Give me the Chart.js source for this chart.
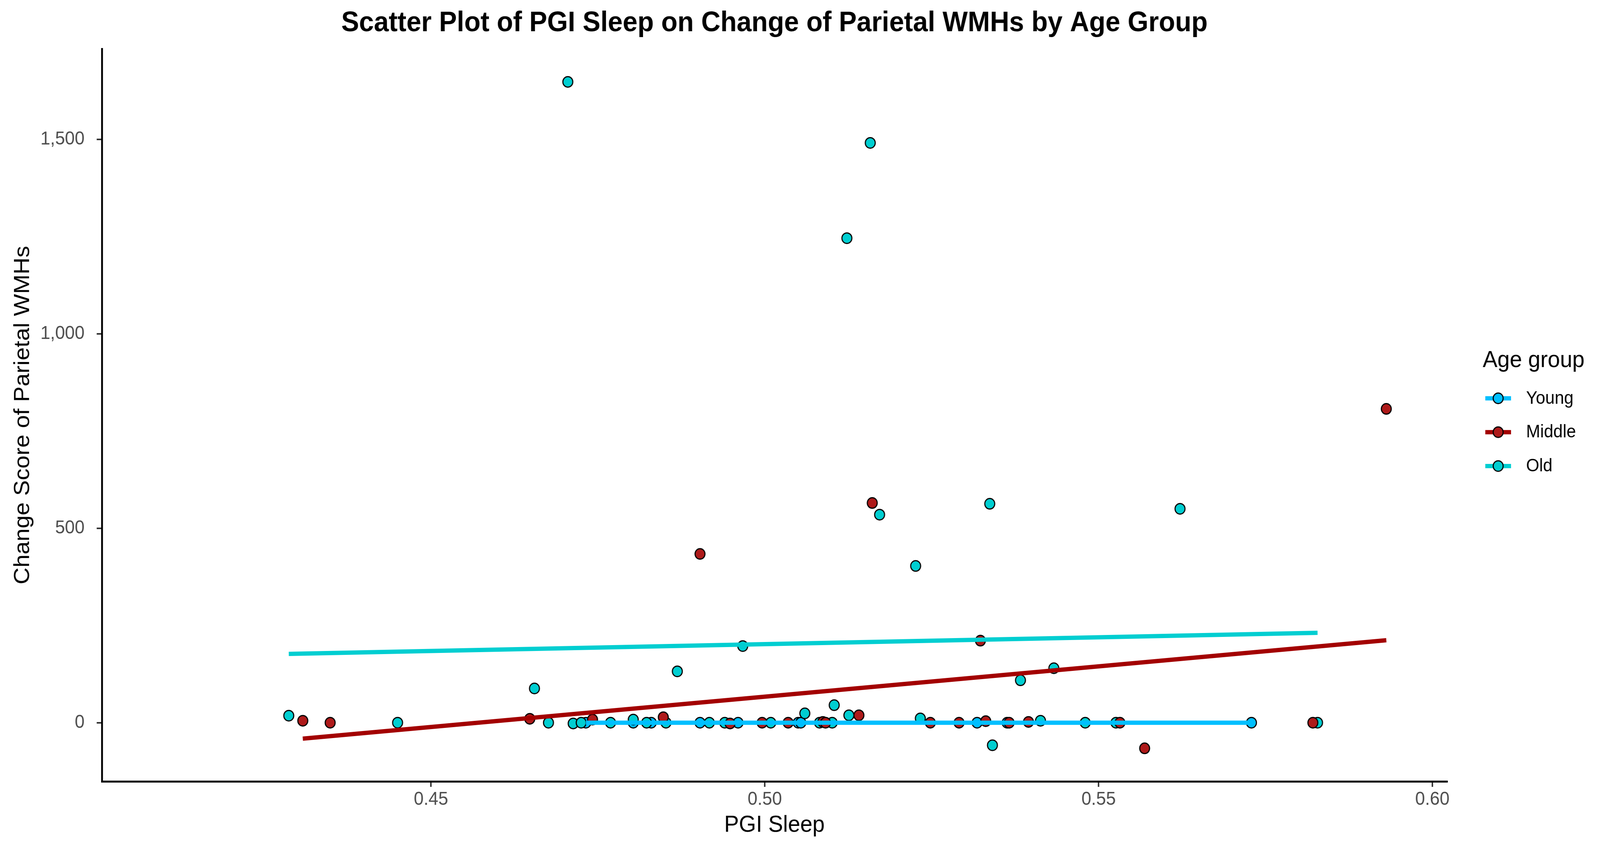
<!DOCTYPE html>
<html>
<head>
<meta charset="utf-8">
<title>PGI Sleep vs Parietal WMHs</title>
<script src="https://cdn.jsdelivr.net/npm/chart.js@4.4.1/dist/chart.umd.min.js"></script>
<style>
  html, body { margin: 0; padding: 0; background: #ffffff; overflow: hidden; }
  /* the chart is laid out at 4352x2169 and stretched to whatever the window is */
  canvas { display: block; }
</style>
</head>
<body>
<canvas id="myChart" width="4352" height="2169" style="width: 100vw; height: 100vh;"></canvas>
<script>
// --- data ---
const youngX = [0.4732, 0.4803, 0.4830, 0.4903, 0.4960, 0.5050, 0.5054, 0.5318, 0.5363, 0.5729];
const youngY = [0, 0, 0, 0, 0, 0, 0, 0, 0, 0];

const middleX = [0.4308, 0.4349, 0.4648, 0.4742, 0.4848, 0.4903, 0.4948, 0.4996, 0.5035, 0.5087,
                 0.5091, 0.5141, 0.5161, 0.5248, 0.5291, 0.5323, 0.5331, 0.5366, 0.5395, 0.5532,
                 0.5569, 0.5821, 0.5931];
const middleY = [5, 0, 10, 8, 14, 434, -2, 0, 0, 2,
                 0, 19, 565, 0, 0, 211, 4, 0, 2, 0,
                 -66, 0, 807];

const oldX = [0.4287, 0.4450, 0.4655, 0.4676, 0.4705, 0.4713, 0.4725, 0.4769, 0.4803, 0.4823,
              0.4852, 0.4869, 0.4917, 0.4940, 0.4967, 0.5009, 0.5060, 0.5082, 0.5101, 0.5104,
              0.5123, 0.5126, 0.5158, 0.5172, 0.5226, 0.5233, 0.5337, 0.5341, 0.5383, 0.5413,
              0.5433, 0.5480, 0.5526, 0.5622, 0.5828];
const oldY = [18, 0, 88, 0, 1648, -2, 0, 0, 8, 0,
              0, 132, 0, 0, 197, 0, 24, 0, 0, 45,
              1246, 19, 1491, 535, 403, 11, 563, -58, 109, 5,
              140, 0, 0, 550, 0];

// fitted lines (start / end) as drawn in the reference
const youngFitX = [0.4732, 0.5729];
const youngFitY = [0, 0];
const middleFitX = [0.4308, 0.5931];
const middleFitY = [-41, 212];
const oldFitX = [0.4287, 0.5828];
const oldFitY = [177, 231];

const groups = ['Young', 'Middle', 'Old'];
const xTicks = [0.45, 0.50, 0.55, 0.60];
const xTickLabels = ['0.45', '0.50', '0.55', '0.60'];
const yTicks = [0, 500, 1000, 1500];
const yTickLabels = ['0', '500', '1,000', '1,500'];

// --- styles ---
const lineColors = { Young: '#00BFFF', Middle: '#A30000', Old: '#00CED1' };
const fillColors = { Young: '#00BFFF', Middle: '#AE1A1A', Old: '#00CED1' };
const FONT = '"Liberation Sans", Arial, Helvetica, sans-serif';

function toPoints(xs, ys) {
    return xs.map((x, i) => ({ x: x, y: ys[i] }));
}

function fitDataset(name, xs, ys, order) {
    return {
        label: name + ' fit',
        data: toPoints(xs, ys),
        showLine: true,
        borderColor: lineColors[name],
        borderWidth: 11,
        pointRadius: 0,
        order: order
    };
}

function pointDataset(name, xs, ys, order) {
    return {
        label: name,
        data: toPoints(xs, ys),
        showLine: false,
        pointRadius: 13.5,
        pointBackgroundColor: fillColors[name],
        pointBorderColor: '#000000',
        pointBorderWidth: 3,
        order: order
    };
}

// Title and ggplot-like legend drawn on the canvas
const titleAndLegend = {
    id: 'titleAndLegend',
    afterDraw(chart) {
        const ctx = chart.ctx;
        const area = chart.chartArea;
        ctx.save();

        ctx.fillStyle = '#000000';
        ctx.font = 'bold 72.5px ' + FONT;
        ctx.textAlign = 'center';
        ctx.textBaseline = 'alphabetic';
        ctx.fillText('Scatter Plot of PGI Sleep on Change of Parietal WMHs by Age Group',
                     (area.left + area.right) / 2, 80);

        const lx = area.right + 97;
        ctx.textAlign = 'left';
        ctx.font = '60px ' + FONT;
        ctx.fillText('Age group', lx, 940);

        groups.forEach((name, i) => {
            const cy = 1020 + i * 86.7;
            ctx.strokeStyle = lineColors[name];
            ctx.lineWidth = 11;
            ctx.lineCap = 'butt';
            ctx.beginPath();
            ctx.moveTo(lx + 7, cy);
            ctx.lineTo(lx + 77, cy);
            ctx.stroke();

            ctx.beginPath();
            ctx.arc(lx + 42, cy, 13.5, 0, Math.PI * 2);
            ctx.fillStyle = fillColors[name];
            ctx.fill();
            ctx.lineWidth = 3;
            ctx.strokeStyle = '#000000';
            ctx.stroke();

            ctx.fillStyle = '#000000';
            ctx.font = '46px ' + FONT;
            ctx.textBaseline = 'middle';
            ctx.fillText(name, lx + 118, cy + 1);
        });
        ctx.restore();
    }
};

const ctx = document.getElementById('myChart').getContext('2d');

const myChart = new Chart(ctx, {
    type: 'scatter',
    data: {
        datasets: [
            fitDataset('Old', oldFitX, oldFitY, 0),
            fitDataset('Middle', middleFitX, middleFitY, 1),
            fitDataset('Young', youngFitX, youngFitY, 2),
            pointDataset('Middle', middleX, middleY, 3),
            pointDataset('Old', oldX, oldY, 4),
            pointDataset('Young', youngX, youngY, 5)
        ]
    },
    options: {
        responsive: false,
        devicePixelRatio: 1,
        animation: false,
        layout: {
            padding: { left: 0, right: 416, top: 125, bottom: 0 }
        },
        plugins: {
            legend: { display: false },
            title: { display: false },
            tooltip: { enabled: false }
        },
        scales: {
            x: {
                type: 'linear',
                min: 0.4007,
                max: 0.6022,
                afterFit: (scale) => { scale.height = 168; },
                afterBuildTicks: (scale) => { scale.ticks = xTicks.map(v => ({ value: v })); },
                grid: {
                    drawOnChartArea: false,
                    drawTicks: true,
                    tickLength: 14,
                    color: '#333333',
                    lineWidth: 4
                },
                border: { display: true, color: '#000000', width: 5 },
                ticks: {
                    autoSkip: false,
                    maxRotation: 0,
                    padding: 9,
                    color: '#4D4D4D',
                    font: { family: FONT, size: 48, lineHeight: 1 },
                    callback: (value, index) => xTickLabels[index]
                },
                title: {
                    display: true,
                    text: 'PGI Sleep',
                    color: '#000000',
                    font: { family: FONT, size: 60, lineHeight: 1 },
                    padding: { top: 0, bottom: 26 }
                }
            },
            y: {
                type: 'linear',
                min: -151,
                max: 1733,
                afterFit: (scale) => { scale.width = 277; },
                afterBuildTicks: (scale) => { scale.ticks = yTicks.map(v => ({ value: v })); },
                grid: {
                    drawOnChartArea: false,
                    drawTicks: true,
                    tickLength: 14,
                    color: '#333333',
                    lineWidth: 4
                },
                border: { display: true, color: '#000000', width: 5 },
                ticks: {
                    autoSkip: false,
                    padding: 33,
                    color: '#4D4D4D',
                    font: { family: FONT, size: 48, lineHeight: 1 },
                    callback: (value, index) => yTickLabels[index]
                },
                title: {
                    display: true,
                    text: 'Change Score of Parietal WMHs',
                    color: '#000000',
                    font: { family: FONT, size: 60, lineHeight: 1 },
                    padding: { top: 32, bottom: 0 }
                }
            }
        }
    },
    plugins: [titleAndLegend]
});
</script>
</body>
</html>
